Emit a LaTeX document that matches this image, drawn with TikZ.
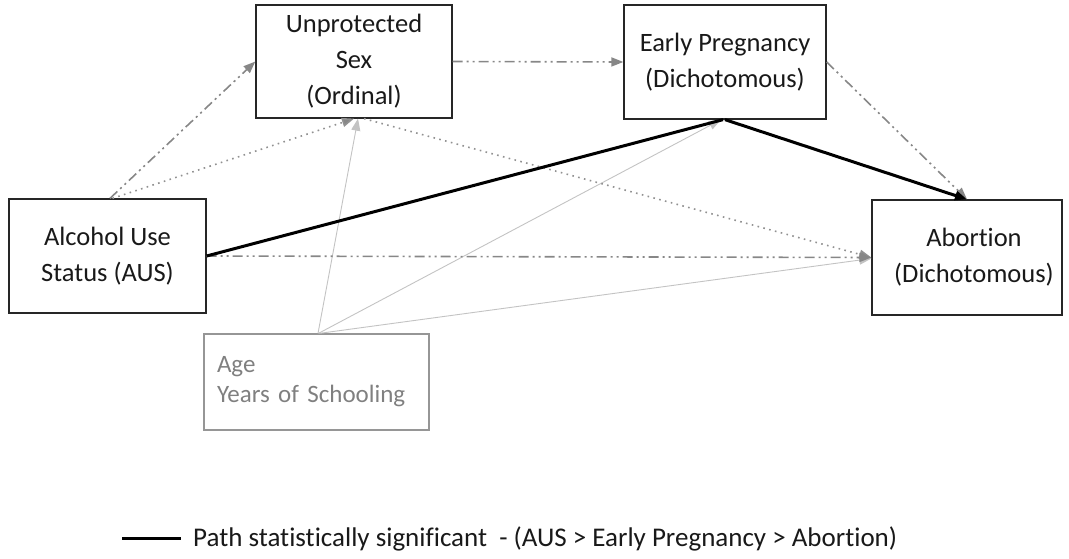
\documentclass[tikz,border=0pt]{standalone}
\usepackage{fontspec}
\setmainfont{Carlito}[Ligatures={NoCommon}]
\usetikzlibrary{arrows.meta}
\definecolor{ddc}{RGB}{135,135,135}
\definecolor{dotc}{RGB}{145,145,145}
\definecolor{agel}{RGB}{195,195,195}
\definecolor{ageb}{RGB}{150,150,150}
\definecolor{aget}{RGB}{128,128,128}
\begin{document}
\begin{tikzpicture}[x=1pt,y=-1pt,
  box/.style={draw=black!85, line width=1.3pt, inner sep=0pt, align=center,
    font=\fontsize{26.5}{36}\selectfont, text=black!90},
  agebox/.style={draw=ageb, line width=1.3pt, inner xsep=13pt, inner ysep=0pt, align=left,
    font=\fontsize{25}{30}\selectfont, text=aget},
  ddline/.style={draw=ddc, line width=1.6pt, dash pattern=on 10pt off 4pt on 2pt off 4pt on 2pt off 4pt},
  dotline/.style={draw=dotc, line width=1.6pt, dash pattern=on 1.6pt off 4.4pt},
  ageline/.style={draw=agel, line width=0.9pt},
  sigline/.style={draw=black, line width=3pt},
  gtip/.style={-{Triangle[length=12pt,width=9pt,fill=ddc]}},
  ltip/.style={-{Triangle[length=12pt,width=9pt,fill=agel]}},
  btip/.style={-{Triangle[length=12pt,width=9pt]}}
]
\useasboundingbox (0,0) rectangle (1069,559);

\node[box, minimum width=196pt, minimum height=113pt] (us) at (354,61.5) {Unprotected\\Sex\\(Ordinal)};
\node[box, minimum width=202pt, minimum height=114pt] (ep) at (725,62) {Early Pregnancy\\(Dichotomous)};
\node[box, minimum width=197pt, minimum height=114pt] (aus) at (107.5,256) {Alcohol Use\\Status (AUS)};
\node[box, minimum width=190pt, minimum height=115pt] (ab) at (967,257.5) {\hspace*{14pt}Abortion\\\hspace*{14pt}(Dichotomous)};
\node[agebox, text width=199pt, minimum height=96pt] (age) at (316.5,382) {Age\\Years of Schooling};

% light grey covariate paths
\draw[ageline, ltip] ([xshift=1.5pt]age.north) -- ([xshift=4pt]us.south);
\draw[ageline, ltip] ([xshift=2pt]age.north) -- ([xshift=-4pt]ep.south);
\draw[ageline, ltip] ([xshift=3pt]age.north) -- ([yshift=-1pt]ab.west);

% dotted paths
\draw[dotline, gtip] ([xshift=5pt]aus.north) -- (us.south);
\draw[dotline, gtip] ([xshift=10pt]us.south) -- (ab.west);

% dash-dot-dot paths
\draw[ddline, gtip] ([xshift=2.5pt]aus.north) -- (us.west);
\draw[ddline, gtip] (us.east) -- (ep.west);
\draw[ddline, gtip] (ep.east) -- (ab.north);
\draw[ddline, gtip] (aus.east) -- (ab.west);

% significant path
\draw[sigline] (aus.east) -- ([xshift=-2pt]ep.south);
\draw[sigline, btip] (ep.south) -- (ab.north);

% legend
\coordinate (la) at (122,538);
\coordinate (lb) at (181,538);
\draw[sigline] (la) -- (lb);
\node[anchor=base west, inner sep=0pt, font=\fontsize{27}{30}\selectfont, text=black!90] (leg) at (193,546)
  {Path statistically significant\ \ - (AUS > Early Pregnancy > Abortion)};
\end{tikzpicture}
\end{document}
